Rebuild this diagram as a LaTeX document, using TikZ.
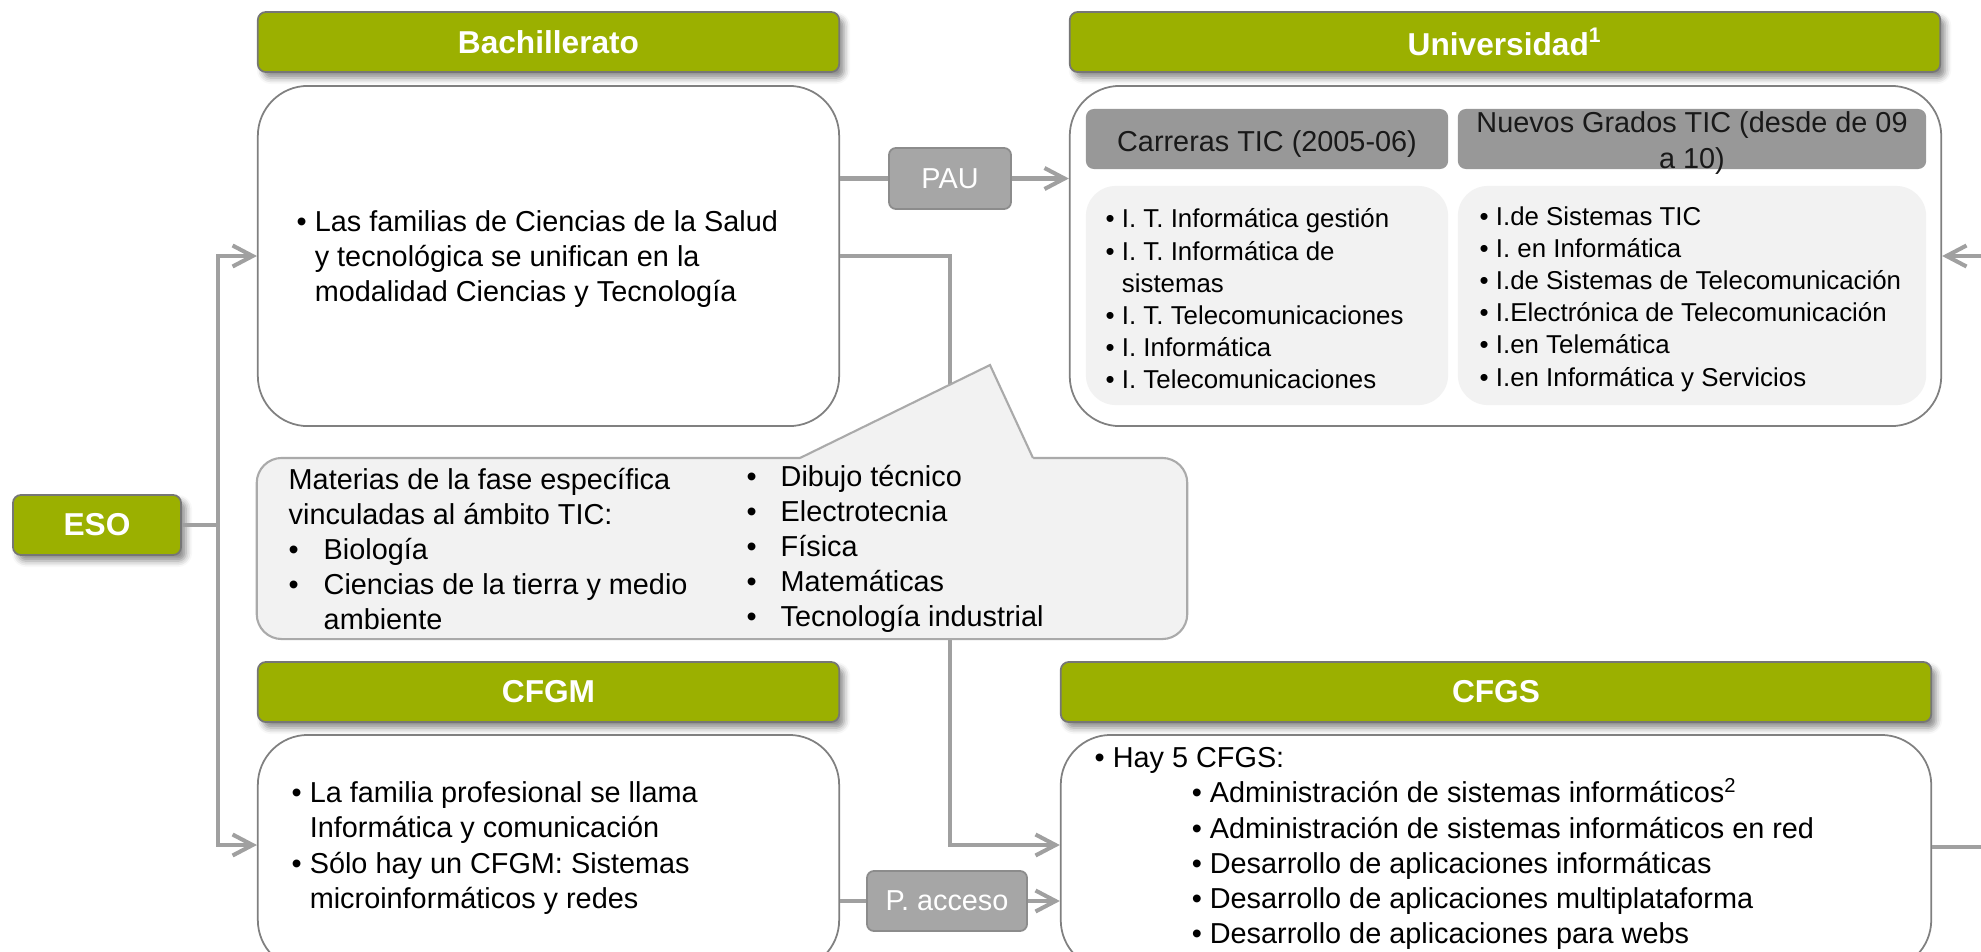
\documentclass[tikz,border=0pt]{standalone}
\usepackage{fontspec}
\setmainfont{Liberation Sans}
\usetikzlibrary{arrows.meta,shadows.blur}
\definecolor{hdrgreen}{RGB}{155,176,0}
\definecolor{hdrline}{RGB}{118,118,118}
\definecolor{boxline}{RGB}{128,128,128}
\definecolor{wire}{RGB}{160,160,160}
\definecolor{tagfill}{RGB}{166,166,166}
\definecolor{tagline}{RGB}{140,140,140}
\definecolor{subfill}{RGB}{152,152,152}
\definecolor{softgray}{RGB}{242,242,242}
\definecolor{callline}{RGB}{170,170,170}
\newcommand\bodyfont{\fontsize{8.2}{10}\selectfont}
\newcommand\listfont{\fontsize{7.35}{9.15}\selectfont}
\newcommand\bl{\textbullet\ }
\newcommand\bi{\phantom{\textbullet\ }}
\newcommand\tabbul[1]{\makebox[#1][l]{\textbullet}}
\tikzset{
  head/.style={fill=hdrgreen,draw=hdrline,line width=0.5pt,rounded corners=0.08cm,minimum height=0.6cm,
    text=white,font=\fontsize{9}{11}\selectfont\bfseries,
    blur shadow={shadow xshift=0.05cm,shadow yshift=-0.06cm,shadow blur radius=0.06cm,shadow opacity=45}},
  body/.style={fill=white,draw=boxline,line width=0.5pt,rounded corners=0.5cm,font=\bodyfont,align=left},
  tag/.style={fill=tagfill,draw=tagline,line width=0.5pt,rounded corners=0.07cm,minimum height=0.6cm,text=white,font=\bodyfont},
  subhead/.style={fill=subfill,draw=none,rounded corners=0.08cm,minimum height=0.6cm},
  listbox/.style={fill=softgray,draw=none,rounded corners=0.3cm,minimum height=2.19cm},
  callbox/.style={fill=softgray,draw=callline,line width=0.6pt,rounded corners=0.25cm},
  txt/.style={font=\bodyfont,align=left,inner sep=0pt,anchor=west},
  wiring/.style={draw=wire,line width=1.15pt},
  into/.style={-{Straight Barb[length=2mm,width=2.1mm]}}
}
\begin{document}
\begin{tikzpicture}[x=0.01cm,y=-0.01cm]
\useasboundingbox(0,0)rectangle(1981,951);
% left column
\node[head,minimum width=1.68cm](eso)at(97,525){ESO};
\node[head,minimum width=5.81cm](bachh)at(548.5,42){Bachillerato};
\node[body,minimum width=5.81cm,minimum height=3.4cm](bach)at(548.5,256){};
\node[txt](bachtxt)at(296,259){\bl Las familias de Ciencias de la Salud\\\bi y tecnológica se unifican en la\\\bi modalidad Ciencias y Tecnología};
\node[head,minimum width=5.81cm](cfgmh)at(548.5,692){CFGM};
\node[body,minimum width=5.81cm,minimum height=2.35cm](cfgm)at(548.5,852.5){};
\node[txt](cfgmtxt)at(291,848){\bl La familia profesional se llama\\\bi Informática y comunicación\\\bl Sólo hay un CFGM: Sistemas\\\bi microinformáticos y redes};
% university
\node[head,minimum width=8.7cm](unih)at(1505,42){Universidad\textsuperscript{1}};
\node[body,minimum width=8.71cm,minimum height=3.4cm](uni)at(1505.5,256){};
\node[subhead,minimum width=3.62cm](carh)at(1267,139){};
\node[font=\bodyfont,text=black!90](carhtxt)at(1267,144){Carreras TIC (2005-06)};
\node[subhead,minimum width=4.68cm](grah)at(1692,139){};
\node[font=\fontsize{8.2}{10.3}\selectfont,text=black!90,align=center](grahtxt)at(1692,143){Nuevos Grados TIC (desde de 09\\a 10)};
\node[listbox,minimum width=3.62cm](carl)at(1267,295.5){};
\node[listbox,minimum width=4.68cm](gral)at(1692,295.5){};
\node[txt,font=\listfont](carltxt)at(1105,299){\bl I. T. Informática gestión\\\bl I. T. Informática de\\\bi sistemas\\\bl I. T. Telecomunicaciones\\\bl I. Informática\\\bl I. Telecomunicaciones};
\node[txt,font=\listfont](graltxt)at(1479,299){\bl I.de Sistemas TIC\\\bl I. en Informática\\\bl I.de Sistemas de Telecomunicación\\\bl I.Electrónica de Telecomunicación\\\bl I.en Telemática\\\bl I.en Informática y Servicios};
% higher vocational
\node[head,minimum width=8.7cm](cfgsh)at(1496,692){CFGS};
\node[body,minimum width=8.7cm,minimum height=2.35cm](cfgs)at(1496,852.5){};
\node[txt](cfgstxt)at(1094,848.5){\bl Hay 5 CFGS:\\\hspace*{0.97cm}\bl Administración de sistemas informáticos\textsuperscript{2}\\\hspace*{0.97cm}\bl Administración de sistemas informáticos en red\\\hspace*{0.97cm}\bl Desarrollo de aplicaciones informáticas\\\hspace*{0.97cm}\bl Desarrollo de aplicaciones multiplataforma\\\hspace*{0.97cm}\bl Desarrollo de aplicaciones para webs};
% access tags
\node[tag,minimum width=1.22cm,minimum height=0.61cm](pau)at(950,178.5){PAU};
\node[tag,minimum width=1.6cm](acc)at(947,901){P. acceso};
% connectors
\coordinate(spine)at(218,845);
\coordinate(drop)at(950,845);
\coordinate(edge)at(1995,847);
\draw[wiring,into](eso.east)-|(bach.west-|spine)--(bach.west);
\draw[wiring,into](eso.east)-|(spine)--(spine-|cfgm.west);
\draw[wiring](bach.east|-pau)--(pau);
\draw[wiring,into](pau)--(pau-|uni.west);
\draw[wiring,into](bach.east)-|(drop)--(drop-|cfgs.west);
\draw[wiring](cfgm.east|-acc)--(acc);
\draw[wiring,into](acc)--(acc-|cfgs.west);
\draw[wiring,into](cfgs.east|-edge)--(edge)|-(uni.east);
% callout
\node[callbox,minimum width=9.3cm,minimum height=1.81cm](mat)at(722,548.5){};
\fill[softgray](800,458)--(990,365)--(1033,458)--(1033,461)--(800,461)--cycle;
\draw[callline,line width=0.6pt](800,458)--(990,365)--(1033,458);
\node[txt](matl)at(288,549){Materias de la fase específica\\vinculadas al ámbito TIC:\\\tabbul{0.35cm}Biología\\\tabbul{0.35cm}Ciencias de la tierra y medio\\\hspace*{0.35cm}ambiente};
\node[txt](matr)at(746,549){\tabbul{0.34cm}Dibujo técnico\\\tabbul{0.34cm}Electrotecnia\\\tabbul{0.34cm}Física\\\tabbul{0.34cm}Matemáticas\\\tabbul{0.34cm}Tecnología industrial};
\end{tikzpicture}
\end{document}
